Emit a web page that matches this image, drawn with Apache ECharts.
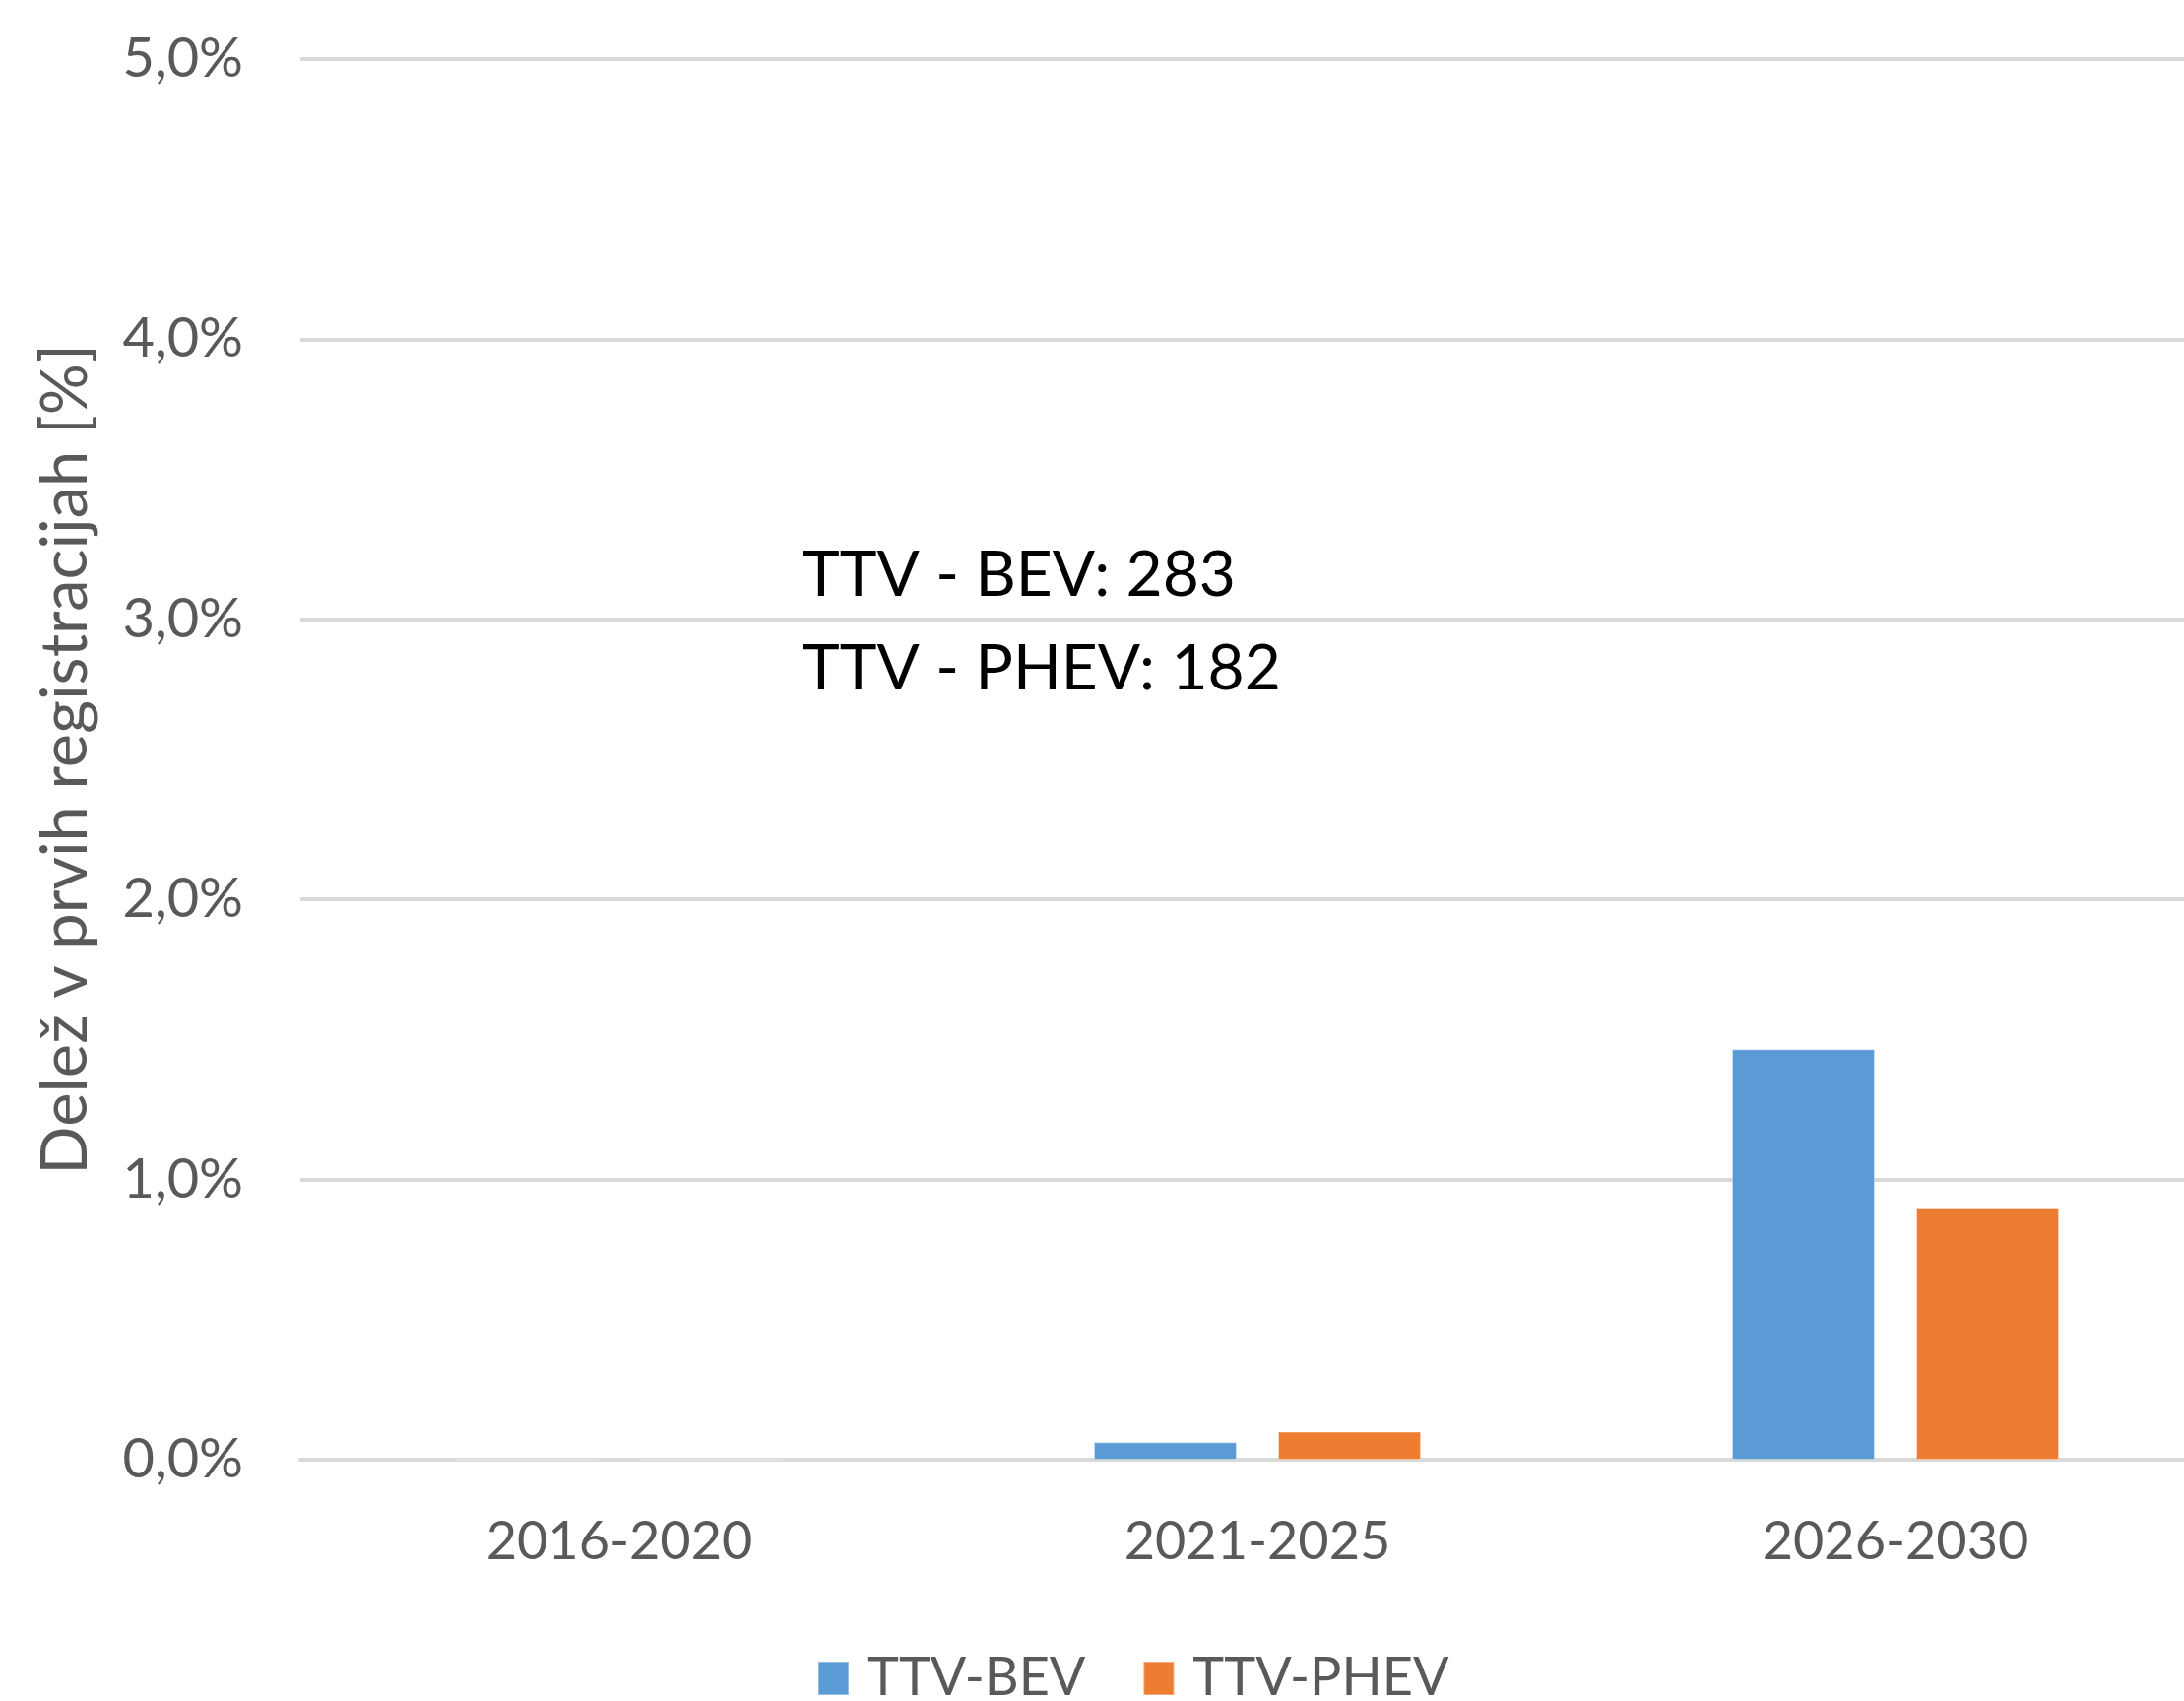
<!DOCTYPE html>
<html>
<head>
<meta charset="utf-8">
<script src="https://cdn.jsdelivr.net/npm/echarts@6/dist/echarts.min.js"></script>
<style>
  html, body { margin: 0; padding: 0; background: #fff; }
  #chart { width: 2218px; height: 1727px; }
</style>
</head>
<body>
<div id="chart"></div>
<script>
var categories = ['2016-2020', '2021-2025', '2026-2030'];
var bevValues = [0, 0.062, 1.465];
var phevValues = [0, 0.10, 0.90];
var seriesNames = ['TTV-BEV', 'TTV-PHEV'];
var noteLines = ['TTV - BEV: 283', 'TTV - PHEV: 182'];

var chart = echarts.init(document.getElementById('chart'));
var font = 'Lato, "Noto Sans", sans-serif';

var option = {
  animation: false,
  backgroundColor: '#fff',
  color: ['#5b9bd5', '#ed7d31'],
  // plot area runs past the right edge of the picture, as in the original
  grid: { left: 305, top: 60, bottom: 245, width: 1944, outerBoundsMode: 'none', containLabel: false },
  legend: {
    left: 830,
    top: 1677,
    padding: 0,
    itemWidth: 31,
    itemHeight: 34,
    itemGap: 58,
    icon: 'rect',
    textStyle: { color: '#595959', fontSize: 54, fontFamily: font, padding: [0, 0, 0, 14] },
    data: seriesNames
  },
  xAxis: {
    type: 'category',
    data: categories,
    axisLine: { lineStyle: { color: '#d9d9d9', width: 4 } },
    axisTick: { show: false },
    axisLabel: { color: '#595959', fontSize: 54, fontFamily: font, margin: 57 }
  },
  yAxis: {
    type: 'value',
    min: 0,
    max: 5,
    interval: 1,
    name: 'Delež v prvih registracijah [%]',
    nameLocation: 'middle',
    nameGap: 205,
    nameTextStyle: { color: '#595959', fontSize: 65, fontFamily: font },
    axisLine: { show: false },
    axisTick: { show: false },
    splitLine: { lineStyle: { color: '#d9d9d9', width: 4 } },
    axisLabel: {
      color: '#595959', fontSize: 56, fontFamily: font, margin: 58,
      formatter: function (v) { return v.toFixed(1).replace('.', ',') + '%'; }
    }
  },
  series: [{
    name: seriesNames[0],
    type: 'bar',
    data: bevValues,
    barWidth: 145,
    barGap: '29%',
    itemStyle: { borderColor: 'rgba(255,255,255,0.35)', borderWidth: 1 }
  }, {
    name: seriesNames[1],
    type: 'bar',
    data: phevValues,
    barWidth: 145,
    barGap: '29%',
    itemStyle: { borderColor: 'rgba(255,255,255,0.35)', borderWidth: 1 }
  }],
  graphic: [{
    type: 'text',
    left: 815,
    top: 552,
    style: { text: noteLines[0], fill: '#000', fontSize: 64, fontFamily: font }
  }, {
    type: 'text',
    left: 815,
    top: 647,
    style: { text: noteLines[1], fill: '#000', fontSize: 64, fontFamily: font }
  }]
};

chart.setOption(option);
</script>
</body>
</html>
